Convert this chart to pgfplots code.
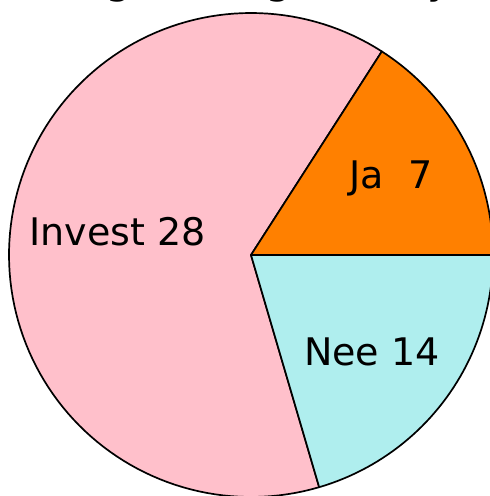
\documentclass[border=0pt]{standalone}
\usepackage{pgfplots}
\pgfplotsset{compat=1.18}
\usepgfplotslibrary{polar}
\usepackage{fontspec}
\setmainfont{DejaVu Sans}
\definecolor{cpink}{HTML}{FFC0CB}
\definecolor{corange}{HTML}{FF8000}
\definecolor{cturq}{HTML}{AFEEEE}
% slice values as drawn (angles) and the printed labels
\def\vJa{7}
\def\vNee{9}
\def\vInv{28}
\pgfmathsetmacro\tot{\vJa+\vNee+\vInv}
\pgfmathsetmacro\aJa{360*\vJa/\tot}
\pgfmathsetmacro\aNee{360*\vNee/\tot}
\pgfmathsetmacro\aInvEnd{360-\aNee}
\begin{document}
\begin{tikzpicture}
\useasboundingbox (0pt,0pt) rectangle (490pt,496pt);
\clip (0pt,0pt) rectangle (490pt,496pt);
\node[anchor=base west, font=\fontsize{42}{44}\selectfont, inner sep=0pt] at (-162pt,502pt) {Uitkomst vergadering Survey};
\begin{polaraxis}[
  hide axis, scale only axis, width=484pt, height=484pt,
  ymin=0, ymax=1, xmin=0, xmax=360,
  at={(251pt,241pt)}, anchor=center, clip=false,
  every axis plot/.append style={draw=black, line width=1.7pt, line join=round},
]
\addplot[fill=cpink, domain=\aJa:\aInvEnd, samples=120] {1} -- (axis cs:0,0) -- cycle;
\addplot[fill=corange, domain=0:\aJa, samples=40] {1} -- (axis cs:0,0) -- cycle;
\addplot[fill=cturq, domain=-\aNee:0, samples=50] {1} -- (axis cs:0,0) -- cycle;
\node[font=\fontsize{38}{40}\selectfont] at (axis cs:170,0.56) {Invest 28};
\node[font=\fontsize{38}{40}\selectfont] at (axis cs:28.8,0.66) {Ja\ \ 7};
\node[font=\fontsize{38}{40}\selectfont] at (axis cs:-38.7,0.64) {Nee 14};
\end{polaraxis}
\end{tikzpicture}
\end{document}
